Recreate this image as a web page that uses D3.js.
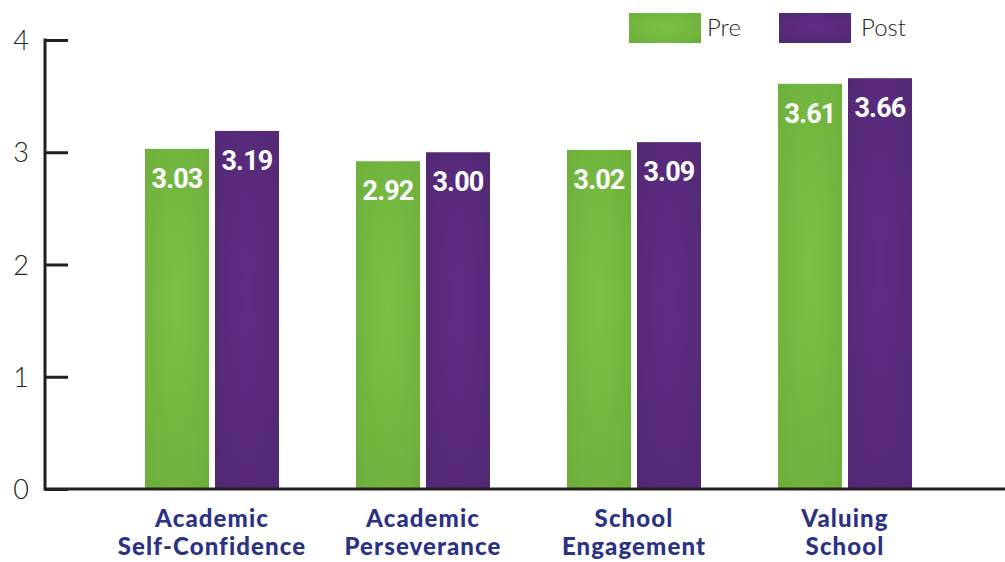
<!DOCTYPE html>
<html>
<head>
<meta charset="utf-8">
<script src="https://d3js.org/d3.v7.min.js"></script>
<style>
  body { margin: 0; background: #fff; }
  svg { display: block; }
</style>
</head>
<body>
<div id="chart"></div>
<script>
// data
var categories = [["Academic", "Self-Confidence"], ["Academic", "Perseverance"], ["School", "Engagement"], ["Valuing", "School"]];
var series = ["Pre", "Post"];
var preValues = [3.03, 2.92, 3.02, 3.61];
var postValues = [3.19, 3.00, 3.09, 3.66];
var yTicks = [0, 1, 2, 3, 4];

var width = 1005, height = 562;

var svg = d3.select("#chart").append("svg")
    .attr("width", width)
    .attr("height", height);

// gradients for the slightly shaded bars
var defs = svg.append("defs");
var grads = {
    Pre: ["#7cc245", "#6cad3b"],
    Post: ["#5f2d85", "#512873"]
};
series.forEach(function(s) {
    var g = defs.append("radialGradient")
        .attr("id", "grad" + s)
        .attr("cx", "50%").attr("cy", "45%").attr("r", "75%");
    g.append("stop").attr("offset", "0%").attr("stop-color", grads[s][0]);
    g.append("stop").attr("offset", "100%").attr("stop-color", grads[s][1]);
});

var keys = categories.map(function(d, i) { return i; });

var x0 = d3.scaleBand()
    .domain(keys)
    .range([106.5, 950.5])
    .paddingInner(0.365)
    .paddingOuter(0.1825);

var x1 = d3.scaleBand()
    .domain(series)
    .range([0, x0.bandwidth()])
    .paddingInner(6 / 70);

var y = d3.scaleLinear()
    .domain([0, 4])
    .range([489, 40]);

var rows = keys.map(function(i) {
    return { i: i, Pre: preValues[i], Post: postValues[i] };
});

// y axis (ticks pointing inward)
var yAxis = d3.axisRight(y)
    .tickValues(yTicks)
    .tickSize(23)
    .tickFormat(d3.format("d"));

var ax = svg.append("g")
    .attr("transform", "translate(45,0)")
    .call(yAxis);
ax.select(".domain").remove();
ax.selectAll(".tick line")
    .attr("stroke", "#231f20")
    .attr("stroke-width", 3);
ax.selectAll(".tick text")
    .attr("x", -24)
    .attr("dy", "0.36em")
    .attr("text-anchor", "middle")
    .style("font-family", "Lato, 'Open Sans', sans-serif")
    .style("font-weight", 300)
    .style("font-size", "27px")
    .attr("fill", "#231f20");

svg.append("line")
    .attr("x1", 45).attr("x2", 45)
    .attr("y1", y(4) - 1.5).attr("y2", y(0) + 1.5)
    .attr("stroke", "#231f20")
    .attr("stroke-width", 3);

// bars
var groups = svg.append("g").selectAll("g")
    .data(rows)
    .join("g")
    .attr("transform", function(d) { return "translate(" + x0(d.i) + ",0)"; });

groups.selectAll("rect")
    .data(function(d) { return series.map(function(s) { return { key: s, value: d[s] }; }); })
    .join("rect")
    .attr("x", function(d) { return x1(d.key); })
    .attr("y", function(d) { return y(d.value); })
    .attr("width", x1.bandwidth())
    .attr("height", function(d) { return y(0) - y(d.value); })
    .attr("fill", function(d) { return "url(#grad" + d.key + ")"; });

groups.selectAll("text.val")
    .data(function(d) { return series.map(function(s) { return { key: s, value: d[s] }; }); })
    .join("text")
    .attr("class", "val")
    .attr("x", function(d) { return x1(d.key) + x1.bandwidth() / 2; })
    .attr("y", function(d) { return y(d.value) + 39; })
    .attr("text-anchor", "middle")
    .attr("fill", "#fff")
    .style("font-family", "Roboto, sans-serif")
    .style("font-weight", 700)
    .style("font-size", "27px")
    .style("letter-spacing", "-0.8px")
    .text(function(d) { return d3.format(".2f")(d.value); });

// baseline
svg.append("line")
    .attr("x1", 45).attr("x2", width)
    .attr("y1", y(0)).attr("y2", y(0))
    .attr("stroke", "#231f20")
    .attr("stroke-width", 3);

// category labels, two lines each
var cx = function(d) { return x0(d.i) + x0.bandwidth() / 2; };
var catStyle = function(sel) {
    sel.attr("text-anchor", "middle")
        .attr("fill", "#2b3183")
        .style("font-family", "Lato, sans-serif")
        .style("font-weight", 900)
        .style("font-size", "24px")
        .style("letter-spacing", "1.1px");
};
var catG = svg.append("g");
catG.selectAll("text.l1")
    .data(rows)
    .join("text")
    .attr("class", "l1")
    .call(catStyle)
    .attr("x", cx)
    .attr("y", 527)
    .text(function(d) { return categories[d.i][0]; });
catG.selectAll("text.l2")
    .data(rows)
    .join("text")
    .attr("class", "l2")
    .call(catStyle)
    .attr("x", cx)
    .attr("y", 555)
    .text(function(d) { return categories[d.i][1]; });

// legend
var legendX = d3.scaleOrdinal().domain(series).range([629, 779]);
var legend = svg.append("g").selectAll("g")
    .data(series)
    .join("g")
    .attr("transform", function(d) { return "translate(" + legendX(d) + ",13)"; });
legend.append("rect")
    .attr("width", 72)
    .attr("height", 30)
    .attr("fill", function(d) { return "url(#grad" + d + ")"; });
legend.append("text")
    .attr("x", function(d) { return d === "Pre" ? 78 : 82; })
    .attr("y", 23)
    .attr("fill", "#231f20")
    .style("font-family", "Lato, sans-serif")
    .style("font-weight", 300)
    .style("font-size", "24px")
    .text(function(d) { return d; });
</script>
</body>
</html>
